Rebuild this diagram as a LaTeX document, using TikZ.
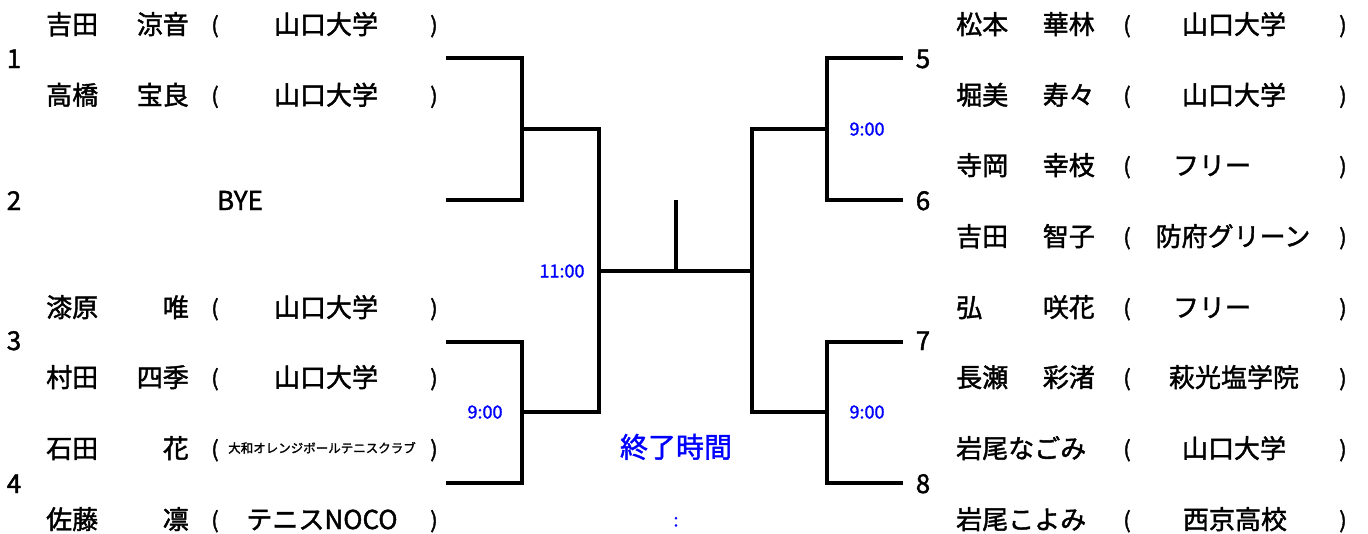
\documentclass[tikz,border=0pt]{standalone}
\usepackage{fontspec}
\setmainfont{Noto Sans CJK JP}[FakeBold=1.6]
\begin{document}
\begin{tikzpicture}[x=1pt,y=-1pt,
  txt/.style={inner sep=0pt,text height=23pt,text depth=3pt,font=\fontsize{26}{30}\selectfont},
  num/.style={txt},
  par/.style={inner sep=0pt,text height=21pt,text depth=3pt,font=\fontsize{22}{26}\selectfont},
  tiny/.style={inner sep=0pt,text height=11pt,text depth=1.5pt,font=\fontsize{12.5}{15}\selectfont},
  tm/.style={inner sep=0pt,text=blue,text height=13pt,text depth=0pt,font=\fontsize{18}{20}\selectfont},
  big/.style={inner sep=0pt,text=blue,text height=24.5pt,text depth=3.5pt,font=\fontsize{28}{32}\selectfont},
  br/.style={line width=3.2pt}]
\useasboundingbox (0,0) rectangle (1368,533);
% ---------- left side ----------
\foreach \y/\sn/\gn/\id in {24/吉田/涼音/a,94.7/高橋/宝良/b,307/漆原/唯/c,377/村田/四季/d,448/石田/花/e,519/佐藤/凛/f}{
  \node[txt,anchor=west] (sn\id) at (46,\y) {\sn};
  \node[txt,anchor=east] (gn\id) at (189,\y) {\gn};
  \node[par] (lp\id) at (215,\y) {(};
  \node[par] (rp\id) at (434,\y) {)};
}
\node[txt] (tma) at (326,24) {山口大学};
\node[txt] (tmb) at (326,94.7) {山口大学};
\node[txt] (tmc) at (326,307) {山口大学};
\node[txt] (tmd) at (326,377) {山口大学};
\node[txt] (tmf) at (322,519) {テニスNOCO};
\node[tiny] (tme) at (322,448) {大和オレンジボールテニスクラブ};
\node[txt] (bye) at (240,200) {BYE};
\node[num] (n1) at (14,58) {1};
\node[num] (n2) at (14,200) {2};
\node[num] (n3) at (14,340) {3};
\node[num] (n4) at (14,483) {4};
% ---------- right side ----------
\foreach \y/\sn/\gn/\id in {24/松本/華林/g,94.7/堀美/寿々/h,165/寺岡/幸枝/i,236/吉田/智子/j,307/弘/咲花/k,377/長瀬/彩渚/l}{
  \node[txt,anchor=west] (sn\id) at (956,\y) {\sn};
  \node[txt,anchor=east] (gn\id) at (1095,\y) {\gn};
}
\node[txt,anchor=west] (snm) at (956,448) {岩尾なごみ};
\node[txt,anchor=west] (snn) at (956,519) {岩尾こよみ};
\foreach \y/\id in {24/g,94.7/h,165/i,236/j,307/k,377/l,448/m,519/n}{
  \node[par] (lp\id) at (1127,\y) {(};
  \node[par] (rp\id) at (1343,\y) {)};
}
\node[txt] (tmg) at (1234,24) {山口大学};
\node[txt] (tmh) at (1234,94.7) {山口大学};
\node[txt] (tmi) at (1212,165) {フリー};
\node[txt] (tmj) at (1233,236) {防府グリーン};
\node[txt] (tmk) at (1212,307) {フリー};
\node[txt] (tml) at (1234,377) {萩光塩学院};
\node[txt] (tmm) at (1234,448) {山口大学};
\node[txt] (tmn) at (1235,519) {西京高校};
\node[num] (n5) at (923,58) {5};
\node[num] (n6) at (923,200) {6};
\node[num] (n7) at (923,340) {7};
\node[num] (n8) at (923,483) {8};
% ---------- bracket ----------
\coordinate (p1) at (446,58);
\coordinate (p2) at (446,200);
\coordinate (p3) at (446,342);
\coordinate (p4) at (446,483);
\coordinate (p5) at (903,58);
\coordinate (p6) at (903,200);
\coordinate (p7) at (903,342);
\coordinate (p8) at (903,483);
\coordinate (q1) at (522,129);
\coordinate (q2) at (522,412);
\coordinate (q3) at (827,129);
\coordinate (q4) at (827,412);
\coordinate (s1) at (599,271);
\coordinate (s2) at (752,271);
\coordinate (top) at (676,200);
\draw[br] (p1) -| (q1) |- (p2);
\draw[br] (p3) -| (q2) |- (p4);
\draw[br] (p5) -| (q3) |- (p6);
\draw[br] (p7) -| (q4) |- (p8);
\draw[br] (q1) -| (s1) |- (q2);
\draw[br] (q3) -| (s2) |- (q4);
\draw[br] (s1) -- (s2);
\draw[br] (top) -- (top |- s1);
% ---------- times ----------
\node[tm] (t1) at (867,129) {9:00};
\node[tm] (t2) at (562,271) {11:00};
\node[tm] (t3) at (485,412) {9:00};
\node[tm] (t4) at (867,412) {9:00};
\node[big] (end) at (676,447) {終了時間};
\node[tm] (colon) at (676,520) {:};
\end{tikzpicture}
\end{document}
